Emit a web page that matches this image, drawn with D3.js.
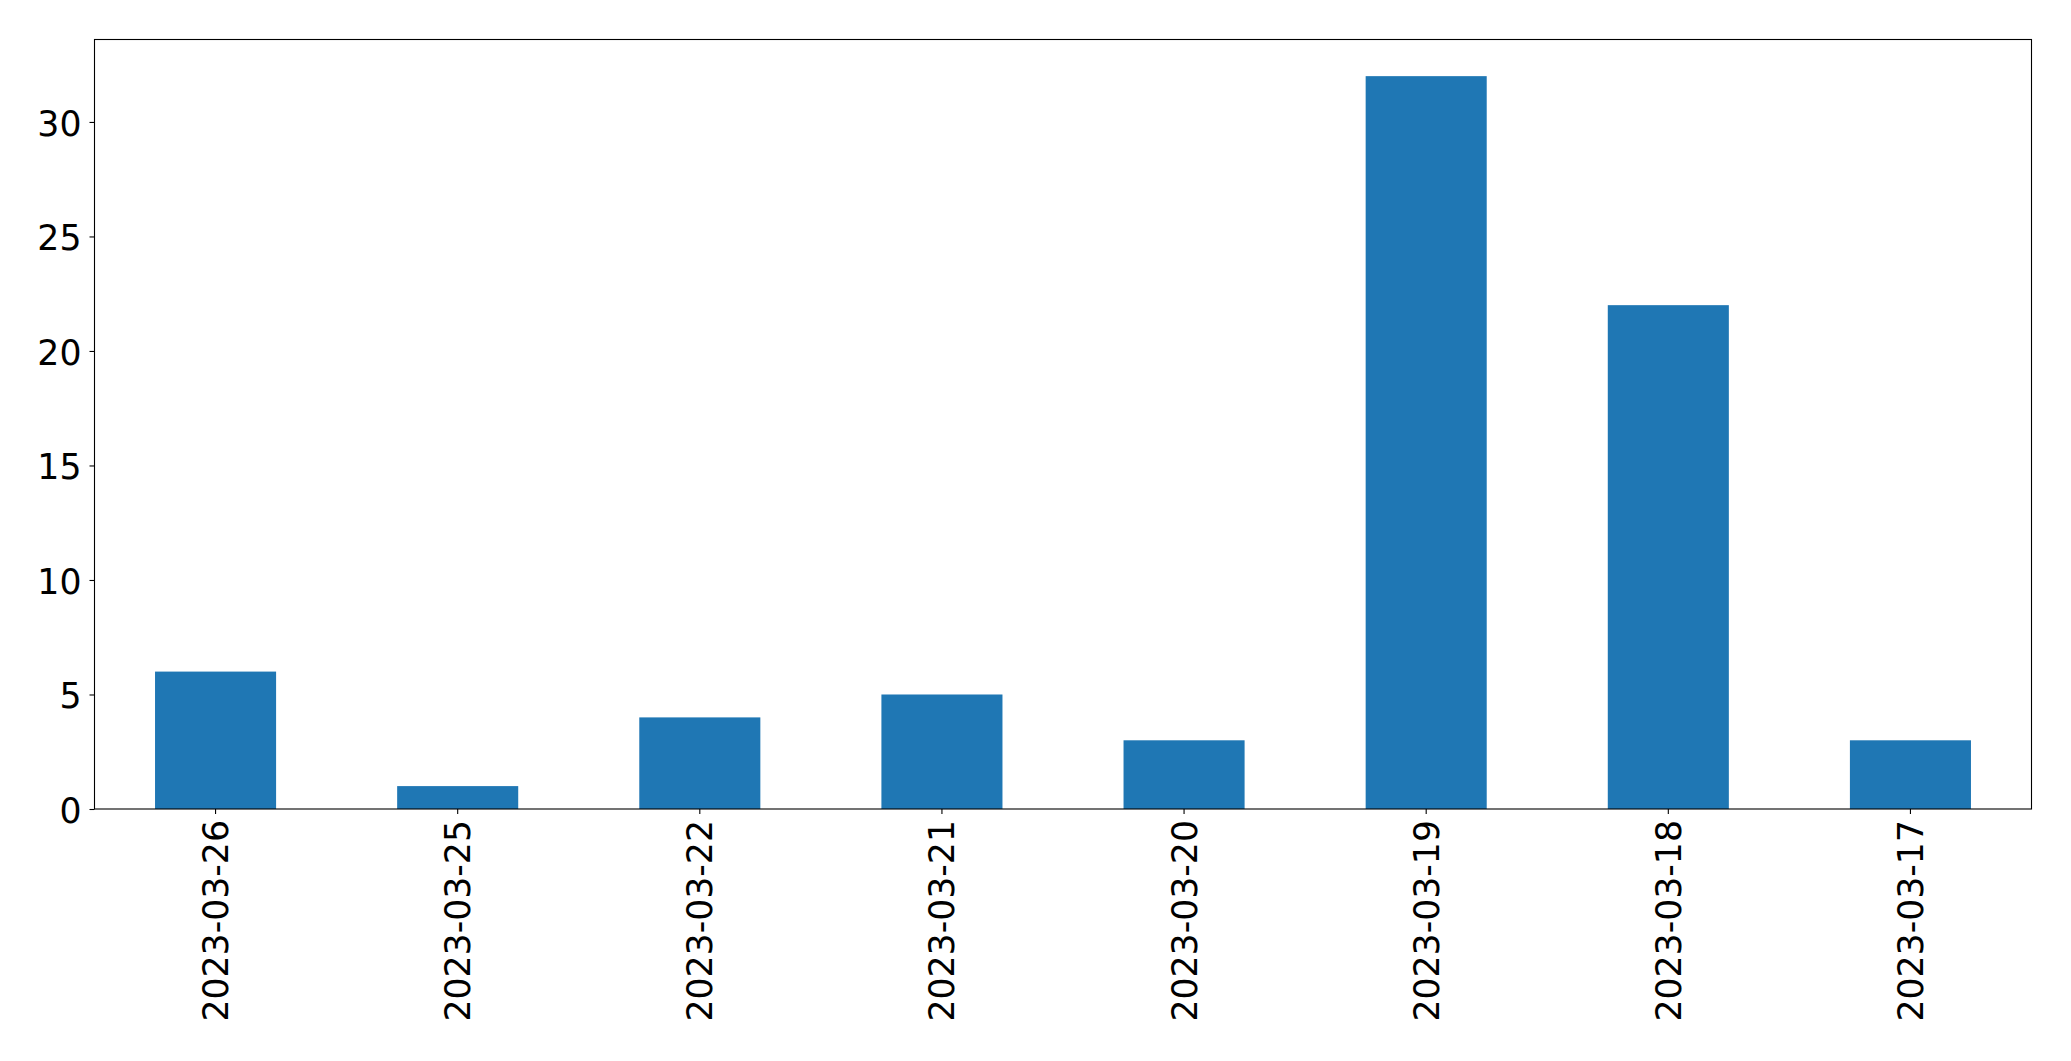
<!DOCTYPE html>
<html>
<head>
<meta charset="utf-8">
<script src="https://cdn.jsdelivr.net/npm/d3@7"></script>
<style>
  body { margin: 0; background: #fff; }
  text { font-family: "DejaVu Sans", sans-serif; }
</style>
</head>
<body>
<div id="chart"></div>
<script>
// Chart data
var dates = ["2023-03-26", "2023-03-25", "2023-03-22", "2023-03-21",
             "2023-03-20", "2023-03-19", "2023-03-18", "2023-03-17"];
var counts = [6, 1, 4, 5, 3, 32, 22, 3];
var yTicks = [0, 5, 10, 15, 20, 25, 30];

var svgWidth = 2071;
var svgHeight = 1061;

var margin = { top: 39.5, right: 39.5, bottom: 252, left: 94.5 };
var width = svgWidth - margin.left - margin.right;
var height = svgHeight - margin.top - margin.bottom;

var svg = d3.select("#chart")
  .append("svg")
  .attr("width", svgWidth)
  .attr("height", svgHeight);

var chartGroup = svg.append("g")
  .attr("transform", `translate(${margin.left}, ${margin.top})`);

// Scales
var xBand = d3.scaleBand()
  .domain(dates)
  .range([0, width])
  .paddingInner(0.5)
  .paddingOuter(0.25);

var yLinear = d3.scaleLinear()
  .domain([0, d3.max(counts) * 1.05])
  .range([height, 0]);

// Bars
chartGroup.selectAll("rect.bar")
  .data(dates)
  .enter()
  .append("rect")
  .attr("class", "bar")
  .attr("x", d => xBand(d))
  .attr("width", xBand.bandwidth())
  .attr("y", (d, i) => yLinear(counts[i]))
  .attr("height", (d, i) => height - yLinear(counts[i]))
  .attr("fill", "#1f77b4");

// Axes
var fontSize = "34.7px";

var leftAxis = d3.axisLeft(yLinear)
  .tickValues(yTicks)
  .tickSize(5)
  .tickPadding(8);

var yAxis = chartGroup.append("g").call(leftAxis);
yAxis.select(".domain").remove();
yAxis.selectAll("line").attr("stroke-width", 1.1);
yAxis.selectAll("text")
  .attr("font-size", fontSize)
  .attr("font-family", "DejaVu Sans")
  .attr("fill", "#000")
  .attr("dy", "0.38em");

var bottomAxis = d3.axisBottom(xBand)
  .tickSize(5)
  .tickSizeOuter(0);

var xAxis = chartGroup.append("g")
  .attr("transform", `translate(0, ${height})`)
  .call(bottomAxis);
xAxis.select(".domain").remove();
xAxis.selectAll("line").attr("stroke-width", 1.1);
xAxis.selectAll("text")
  .attr("font-size", fontSize)
  .attr("font-family", "DejaVu Sans")
  .attr("fill", "#000")
  .attr("transform", "rotate(-90)")
  .attr("text-anchor", "end")
  .attr("x", -11)
  .attr("y", 0)
  .attr("dy", "0.36em");

// Frame
chartGroup.append("rect")
  .attr("x", 0)
  .attr("y", 0)
  .attr("width", width)
  .attr("height", height)
  .attr("fill", "none")
  .attr("stroke", "#000")
  .attr("stroke-width", 1.1);
</script>
</body>
</html>
